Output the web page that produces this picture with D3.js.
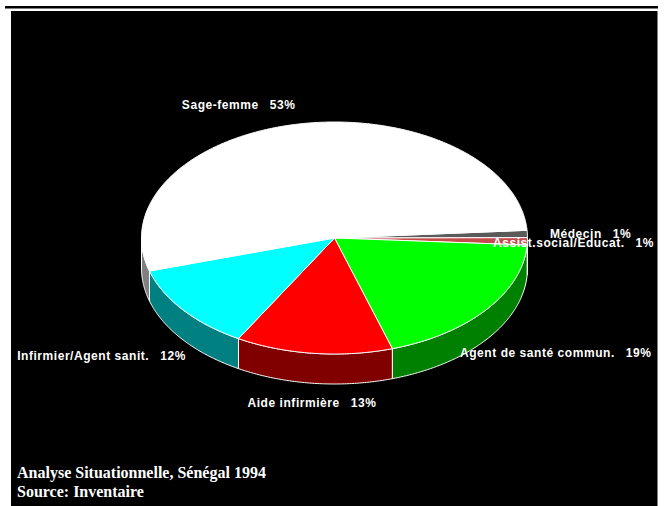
<!DOCTYPE html>
<html>
<head>
<meta charset="utf-8">
<script src="https://cdn.jsdelivr.net/npm/d3@7"></script>
<style>
  html, body { margin: 0; padding: 0; background: #fff; }
  svg { display: block; }
  text { white-space: pre; }
</style>
</head>
<body>
<svg id="chart" width="666" height="506"></svg>
<script>
// Personnel categories (clockwise from the right-hand edge of the pie)
const categories = ["Médecin", "Assist.social/Educat.", "Agent de santé commun.", "Aide infirmière", "Infirmier/Agent sanit.", "Sage-femme"];
const shares = [1, 1, 19, 13, 12, 53];
const shareLabels = ["1%", "1%", "19%", "13%", "12%", "53%"];
const footerLines = ["Analyse Situationnelle, Sénégal 1994", "Source: Inventaire"];

// colours for the top face and the darker side wall of each slice
const topColors  = ["#5a5a5a", "#c44c4c", "#00ff00", "#ff0000", "#00ffff", "#ffffff"];
const sideColors = ["#2d2d2d", "#6a2626", "#008000", "#800000", "#008080", "#808080"];

const svg = d3.select("#chart");

// page frame
svg.append("line").attr("x1", 5).attr("x2", 658).attr("y1", 7.3).attr("y2", 7.3)
  .attr("stroke", "#000").attr("stroke-width", 2.5);
svg.append("rect").attr("x", 11).attr("y", 11).attr("width", 646.5).attr("height", 495).attr("fill", "#000");

// ellipse geometry of the tilted pie
const cx = 334.5, cy = 238, rx = 193, ry = 116, depth = 30;
const deg = Math.PI / 180;

const pie = d3.pie().sort(null).value(d => d)
  .startAngle(86.2 * deg).endAngle(446.2 * deg);
const arcs = pie(shares);

// pie angle (clockwise from 12 o'clock) -> screen angle (clockwise from 3 o'clock)
const toScreen = a => a - Math.PI / 2;
const pt = (t, dy = 0) => [cx + rx * Math.cos(t), cy + ry * Math.sin(t) + dy];

function sample(t0, t1, dy) {
  const n = Math.max(2, Math.ceil(Math.abs(t1 - t0) / (0.5 * deg)));
  return d3.range(n + 1).map(i => pt(t0 + (t1 - t0) * i / n, dy));
}
const line = d3.line();

// side walls: only the front half (0..180 degrees on screen) is visible
const sides = svg.append("g");
arcs.forEach((a, i) => {
  const t0 = toScreen(a.startAngle), t1 = toScreen(a.endAngle);
  const segs = [];
  [[t0, t1], [t0 - 2 * Math.PI, t1 - 2 * Math.PI], [t0 + 2 * Math.PI, t1 + 2 * Math.PI]].forEach(([s, e]) => {
    const lo = Math.max(s, 0), hi = Math.min(e, Math.PI);
    if (hi > lo) segs.push([lo, hi]);
  });
  segs.forEach(([lo, hi]) => {
    const pts = sample(lo, hi, 0).concat(sample(hi, lo, depth));
    sides.append("path")
      .attr("d", line(pts) + "Z")
      .attr("fill", sideColors[i])
      .attr("stroke", "#fff").attr("stroke-width", 1).attr("stroke-linejoin", "round");
  });
});

// top faces
const tops = svg.append("g");
arcs.forEach((a, i) => {
  const t0 = toScreen(a.startAngle), t1 = toScreen(a.endAngle);
  const pts = [[cx, cy]].concat(sample(t0, t1, 0));
  tops.append("path")
    .attr("d", line(pts) + "Z")
    .attr("fill", topColors[i])
    .attr("stroke", "#fff").attr("stroke-width", 1).attr("stroke-linejoin", "round");
});

// labels placed around the rim at each slice's mid-angle, nudged clear of neighbours
const labelNudge = [[2.6, 4.8], [-54.4, -24.8], [-42.3, 5.3], [0.5, 3.8], [18.5, 7.5], [-1.5, 5.3]];
const labels = svg.append("g")
  .attr("font-family", "'Liberation Sans', Arial, Helvetica, sans-serif")
  .attr("font-weight", "bold").attr("font-size", 12).attr("fill", "#fff")
  .attr("letter-spacing", 0.55);
arcs.forEach((a, i) => {
  const t = toScreen((a.startAngle + a.endAngle) / 2);
  const c = Math.cos(t), s = Math.sin(t);
  const x = cx + (rx + 20) * c;
  const y = cy + (ry + 20) * s + (s > 0 ? depth : 0);
  const anchor = c < -0.15 ? "end" : (c > 0.15 ? "start" : "middle");
  const txt = labels.append("text")
    .attr("x", x + labelNudge[i][0]).attr("y", y + labelNudge[i][1])
    .attr("text-anchor", anchor);
  txt.append("tspan").text(categories[i]);
  txt.append("tspan").attr("dx", 11).text(shareLabels[i]);
});

// source note
svg.append("g")
  .attr("font-family", "'Liberation Serif', 'Times New Roman', serif")
  .attr("font-weight", "bold").attr("font-size", 16).attr("fill", "#fff")
  .selectAll("text").data(footerLines).join("text")
  .attr("x", 17).attr("y", (d, i) => 478 + i * 19)
  .text(d => d);
</script>
</body>
</html>
